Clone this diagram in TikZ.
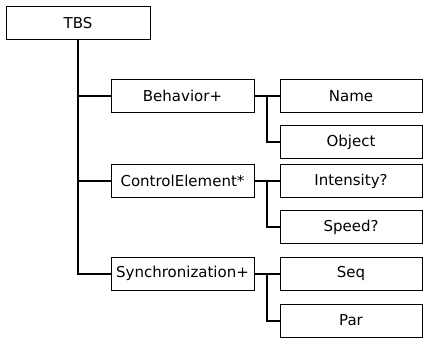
\documentclass[tikz,border=0pt]{standalone}
\usepackage{fontspec}
\setmainfont{DejaVu Sans}
\begin{document}
\begin{tikzpicture}[x=1pt,y=-1pt,
  box/.style={draw=black,line width=1pt,minimum height=33pt,inner sep=0pt,
    font=\fontsize{15}{17}\selectfont},
  topbox/.style={box,minimum width=144pt},
  midbox/.style={box,minimum width=143pt},
  leafbox/.style={box,minimum width=142pt},
  link/.style={line width=2pt}]
\useasboundingbox (0,0) rectangle (424,341);
% root
\node[topbox] (tbs) at (78,23) {TBS};
% second level
\node[midbox] (beh) at (182.5,96) {Behavior+};
\node[midbox] (ctl) at (182.5,181) {ControlElement*};
\node[midbox] (syn) at (182.5,273.5) {Synchronization+};
% leaves
\node[leafbox] (name) at (351,96) {Name};
\node[leafbox] (obj)  at (351,142) {Object};
\node[leafbox] (int)  at (351,181) {Intensity?};
\node[leafbox] (spd)  at (351,227) {Speed?};
\node[leafbox] (seq)  at (351,273.5) {Seq};
\node[leafbox] (par)  at (351,320.5) {Par};
% trunk from the root
\draw[link] (tbs.south) -- (tbs.south |- syn.west) -- (syn.west);
\draw[link] (tbs.south |- beh.west) -- (beh.west);
\draw[link] (tbs.south |- ctl.west) -- (ctl.west);
% branches to the leaves
\foreach \p/\a/\b in {beh/name/obj, ctl/int/spd, syn/seq/par}{
  \draw[link] (\p.east) -- (\a.west);
  \draw[link] ([xshift=12pt]\p.east) |- (\b.west);
}
\end{tikzpicture}
\end{document}
